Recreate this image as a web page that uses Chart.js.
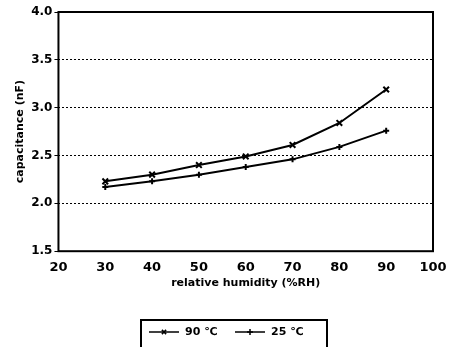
<!DOCTYPE html>
<html>
<head>
<meta charset="utf-8">
<script src="https://cdn.jsdelivr.net/npm/chart.js@4"></script>
<style>
  body { margin: 0; background: #fff; }
  #wrap { width: 450px; height: 347px; }
</style>
</head>
<body>
<div id="wrap"><canvas id="capChart" width="450" height="347"></canvas></div>
<script>
// relative humidity (%RH)
const humidity = [30, 40, 50, 60, 70, 80, 90];
// capacitance (nF) per temperature
const cap90 = [2.23, 2.30, 2.40, 2.49, 2.61, 2.84, 3.19];
const cap25 = [2.17, 2.23, 2.30, 2.38, 2.46, 2.59, 2.76];
const seriesLabels = ['90 ℃', '25 ℃'];

const family = '"DejaVu Sans", sans-serif';

// plot frame + custom boxed legend under the chart
const framePlugin = {
    id: 'frame',
    afterDraw(chart) {
        const ctx = chart.ctx;
        const a = chart.chartArea;
        ctx.save();
        ctx.strokeStyle = '#000';
        ctx.lineWidth = 2;
        ctx.strokeRect(a.left, a.top, a.right - a.left, a.bottom - a.top);

        // legend box
        const bx = 141, by = 320, bw = 186, bh = 30;
        ctx.strokeRect(bx, by, bw, bh);
        ctx.font = 'bold 11px ' + family;
        ctx.fillStyle = '#000';
        ctx.textBaseline = 'middle';
        const cy = by + 12;
        const items = [
            { x: bx + 8, style: 'crossRot', label: chart.data.datasets[0].label },
            { x: bx + 94, style: 'cross', label: chart.data.datasets[1].label }
        ];
        items.forEach(it => {
            ctx.lineWidth = 1.5;
            ctx.beginPath();
            ctx.moveTo(it.x, cy);
            ctx.lineTo(it.x + 30, cy);
            ctx.stroke();
            Chart.helpers.drawPoint(ctx, { pointStyle: it.style, radius: 3, borderWidth: 1.5 }, it.x + 15, cy);
            ctx.fillText(it.label, it.x + 36, cy);
        });
        ctx.restore();
    }
};

new Chart(document.getElementById('capChart'), {
    type: 'line',
    data: {
        datasets: [{
            label: seriesLabels[0],
            data: humidity.map((h, i) => ({ x: h, y: cap90[i] })),
            borderColor: '#000',
            borderWidth: 2,
            pointStyle: 'crossRot',
            pointRadius: 4,
            pointBorderWidth: 2,
            pointBorderColor: '#000',
            tension: 0
        }, {
            label: seriesLabels[1],
            data: humidity.map((h, i) => ({ x: h, y: cap25[i] })),
            borderColor: '#000',
            borderWidth: 2,
            pointStyle: 'cross',
            pointRadius: 3,
            pointBorderWidth: 2,
            pointBorderColor: '#000',
            tension: 0
        }]
    },
    options: {
        responsive: false,
        animation: false,
        layout: { padding: { top: 12, right: 17, bottom: 57, left: 14 } },
        scales: {
            x: {
                type: 'linear',
                min: 20,
                max: 100,
                ticks: { stepSize: 10, color: '#000', font: { size: 13, weight: 'bold', family: family }, padding: 1 },
                grid: { display: false },
                border: { display: false },
                title: { display: true, text: 'relative humidity (%RH)', color: '#000', font: { size: 11, weight: 'bold', family: family }, padding: { top: 0, bottom: 0 } }
            },
            y: {
                min: 1.5,
                max: 4.0,
                ticks: { stepSize: 0.5, color: '#000', callback: v => v.toFixed(1), font: { size: 12, weight: 'bold', family: family }, padding: 2 },
                grid: { color: '#000', lineWidth: 1, tickLength: 4, tickColor: '#000' },
                border: { display: false, dash: [2, 2] },
                title: { display: true, text: 'capacitance (nF)', color: '#000', font: { size: 11, weight: 'bold', family: family }, padding: { top: 0, bottom: 2 } }
            }
        },
        plugins: {
            legend: { display: false },
            tooltip: { enabled: false }
        }
    },
    plugins: [framePlugin]
});
</script>
</body>
</html>
